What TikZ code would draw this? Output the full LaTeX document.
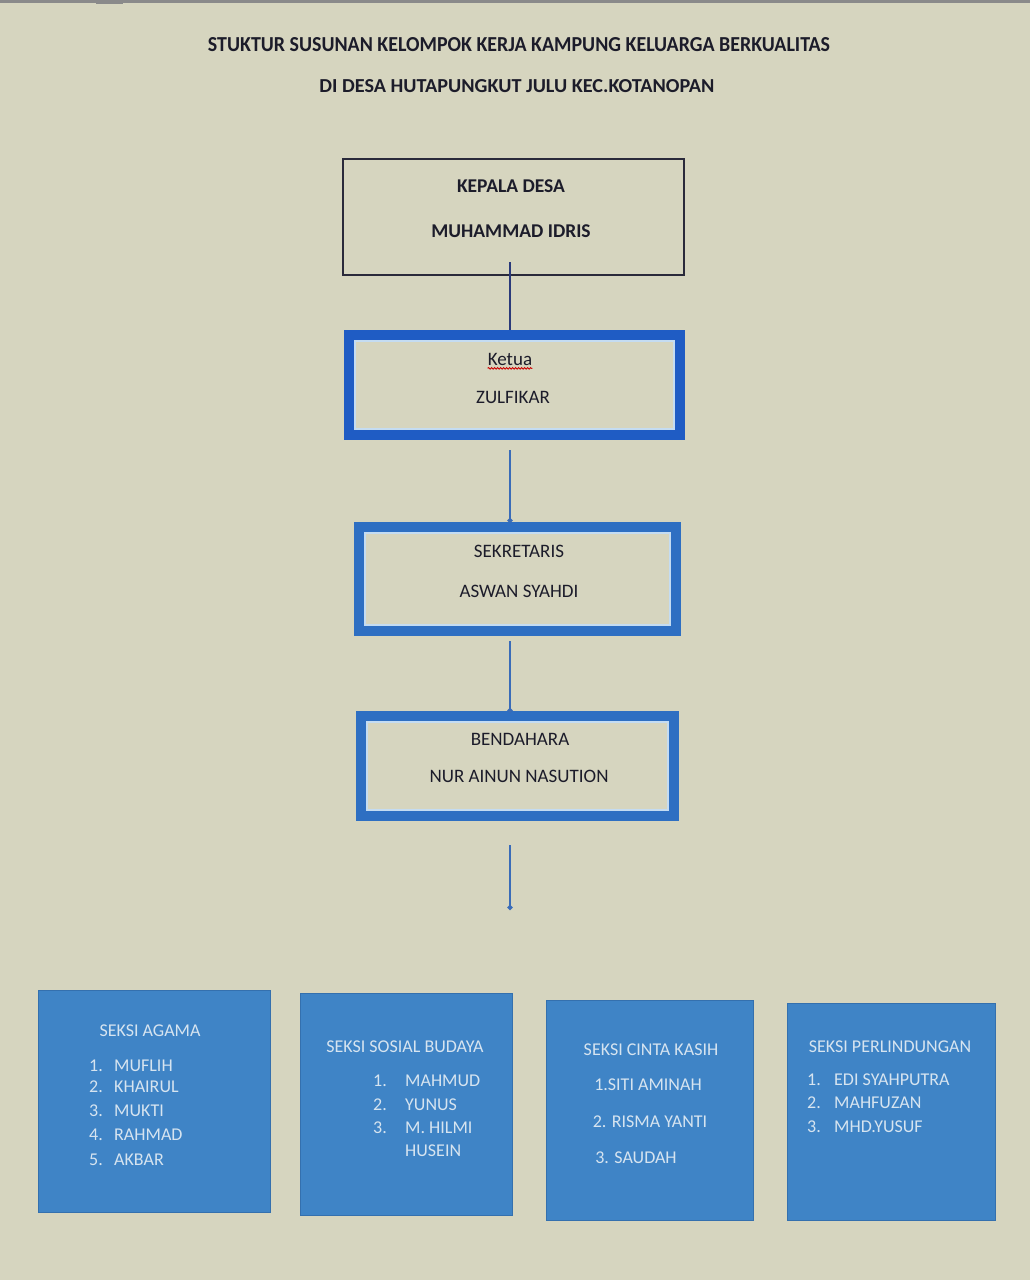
\documentclass[tikz,border=0pt]{standalone}
\usepackage{fontspec}
\setmainfont{Carlito}
\usetikzlibrary{arrows.meta,decorations.pathmorphing}
\definecolor{bg}{HTML}{D6D5BF}
\definecolor{titlec}{HTML}{1C1C2A}
\definecolor{darkline}{HTML}{2A2A3A}
\definecolor{darkconn}{HTML}{2A3A7A}
\definecolor{ketuablue}{HTML}{1F5CC4}
\definecolor{sekblue}{HTML}{2E6FC2}
\definecolor{innerc}{HTML}{C4DCF2}
\definecolor{connblue}{HTML}{3A6CB8}
\definecolor{seksifill}{HTML}{3F84C6}
\definecolor{seksiedge}{HTML}{3470AE}
\definecolor{seksitext}{HTML}{D6E4F0}
\definecolor{topbar}{HTML}{8A8A8A}
\begin{document}
\begin{tikzpicture}[x=1pt,y=-1pt,
  topbox/.style={draw=darkline,line width=2pt,minimum width=341pt,minimum height=116pt,inner sep=0pt},
  bluebox/.style={draw=#1,line width=10pt,inner sep=0pt},
  innerline/.style={draw=innerc,line width=2pt},
  boxtxt/.style={inner sep=0pt,anchor=center,text=titlec,font=\fontsize{19}{22}\selectfont},
  boldtxt/.style={boxtxt,font=\fontsize{19.5}{22}\selectfont\bfseries},
  conn/.style={draw=connblue,line width=1.6pt,-{Circle[length=5pt]}},
  seksi/.style={fill=seksifill,draw=seksiedge,line width=1pt,inner sep=0pt},
  seksihead/.style={inner sep=0pt,anchor=center,text=seksitext,font=\fontsize{18}{20}\selectfont},
  listnum/.style={inner sep=0pt,anchor=west,text=seksitext,font=\fontsize{18}{20}\selectfont},
  listname/.style={listnum},
  titletxt/.style={inner sep=0pt,anchor=center,text=titlec}
]
\fill[bg] (0,0) rectangle (1030,1280);
\useasboundingbox (0,0) rectangle (1030,1280);
\fill[topbar] (0,0) rectangle (1030,3);
\draw[topbar,line width=1pt] (96,0) rectangle (122,3);

% title
\node[titletxt] (title1) at (519,45) {\resizebox{622pt}{14pt}{\bfseries STUKTUR SUSUNAN KELOMPOK KERJA KAMPUNG KELUARGA BERKUALITAS}};
\node[titletxt] (title2) at (517,86) {\resizebox{395pt}{13pt}{\bfseries DI DESA HUTAPUNGKUT JULU KEC.KOTANOPAN}};

\coordinate (axis) at (510,0);

% Kepala Desa
\node[topbox] (kepala) at (513.5,217) {};
\node[boldtxt] (kepalaT1) at (511,186) {KEPALA DESA};
\node[boldtxt] (kepalaT2) at (511,231) {MUHAMMAD IDRIS};

% Ketua
\node[bluebox=ketuablue,minimum width=331pt,minimum height=100pt] (ketua) at (514.5,385) {};
\draw[innerline] ([shift={(11,11)}]ketua.north west) rectangle ([shift={(-11,-11)}]ketua.south east);
\node[boxtxt] (ketuaT1) at (510,359) {Ketua};
\draw[red!80!black,line width=0.9pt,decorate,decoration={snake,amplitude=0.8pt,segment length=3pt}] ([yshift=-3pt]ketuaT1.south west) -- ([yshift=-3pt]ketuaT1.south east);
\node[boxtxt] (ketuaT2) at (513,397) {ZULFIKAR};

% Sekretaris
\node[bluebox=sekblue,minimum width=317pt,minimum height=104pt] (sek) at (517.5,579) {};
\draw[innerline] ([shift={(11,11)}]sek.north west) rectangle ([shift={(-11,-11)}]sek.south east);
\node[boxtxt] (sekT1) at (519,551) {SEKRETARIS};
\node[boxtxt] (sekT2) at (519,591) {ASWAN SYAHDI};

% Bendahara
\node[bluebox=sekblue,minimum width=313pt,minimum height=100pt] (bend) at (517.5,766) {};
\draw[innerline] ([shift={(11,11)}]bend.north west) rectangle ([shift={(-11,-11)}]bend.south east);
\node[boxtxt] (bendT1) at (520,739) {BENDAHARA};
\node[boxtxt] (bendT2) at (519,776) {NUR AINUN NASUTION};

\coordinate (freeend) at (510,910);

% connectors
\draw[draw=darkconn,line width=1.6pt] ([yshift=14pt]kepala.south -| axis) -- (ketua.north -| axis);
\draw[conn,shorten <=10pt] (ketua.south -| axis) -- ([yshift=-1pt]sek.north -| axis);
\draw[conn,shorten <=5pt] (sek.south -| axis) -- ([yshift=-2pt]bend.north -| axis);
\draw[conn,shorten <=24pt] (bend.south -| axis) -- (freeend);

% Seksi boxes
\node[seksi,minimum width=232pt,minimum height=222pt] (agama) at (154,1101) {};
\node[seksihead] (agamaH) at (150,1031) {SEKSI AGAMA};
\node[listnum] (ag1n) at (89,1066) {1.};\node[listname] (ag1) at (114,1066) {MUFLIH};
\node[listnum] (ag2n) at (89,1087) {2.};\node[listname] (ag2) at (114,1087) {KHAIRUL};
\node[listnum] (ag3n) at (89,1111) {3.};\node[listname] (ag3) at (114,1111) {MUKTI};
\node[listnum] (ag4n) at (89,1135) {4.};\node[listname] (ag4) at (114,1135) {RAHMAD};
\node[listnum] (ag5n) at (89,1160) {5.};\node[listname] (ag5) at (114,1160) {AKBAR};

\node[seksi,minimum width=212pt,minimum height=222pt] (sosial) at (406,1104) {};
\node[seksihead] (sosialH) at (405,1047) {SEKSI SOSIAL BUDAYA};
\node[listnum] (so1n) at (373,1081) {1.};\node[listname] (so1) at (405,1081) {MAHMUD};
\node[listnum] (so2n) at (373,1105) {2.};\node[listname] (so2) at (405,1105) {YUNUS};
\node[listnum] (so3n) at (373,1128) {3.};\node[listname] (so3) at (405,1128) {M. HILMI};
\node[listname] (so4) at (405,1151) {HUSEIN};

\node[seksi,minimum width=207pt,minimum height=220pt] (cinta) at (649.5,1110) {};
\node[seksihead] (cintaH) at (651,1050) {SEKSI CINTA KASIH};
\node[seksihead] (ci1) at (648,1085) {1.SITI AMINAH};
\node[seksihead] (ci2) at (650,1122) {2. RISMA YANTI};
\node[seksihead] (ci3) at (636,1158) {3. SAUDAH};

\node[seksi,minimum width=208pt,minimum height=217pt] (lindung) at (891,1111.5) {};
\node[seksihead] (lindungH) at (890,1047) {SEKSI PERLINDUNGAN};
\node[listnum] (li1n) at (807,1080) {1.};\node[listname] (li1) at (834,1080) {EDI SYAHPUTRA};
\node[listnum] (li2n) at (807,1103) {2.};\node[listname] (li2) at (834,1103) {MAHFUZAN};
\node[listnum] (li3n) at (807,1127) {3.};\node[listname] (li3) at (834,1127) {MHD.YUSUF};
\end{tikzpicture}
\end{document}
